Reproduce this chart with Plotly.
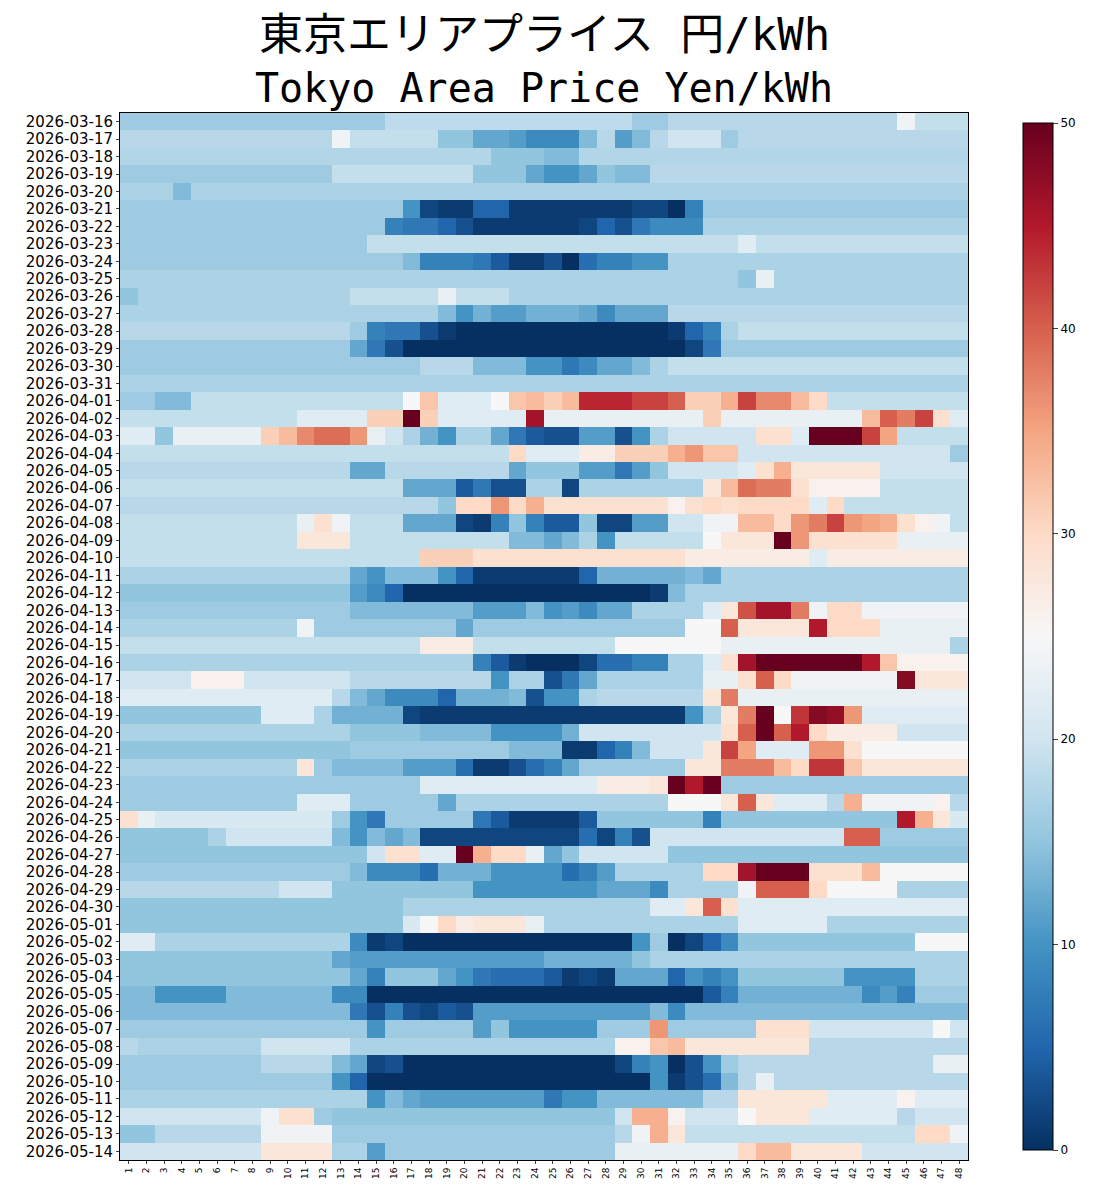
import pandas as pd
import plotly.graph_objects as go

dates = [d.strftime("%Y-%m-%d") for d in pd.date_range("2026-03-16", "2026-05-14")]
slots = [str(i) for i in range(1, 49)]

# each row: base price, then (from_slot, to_slot, price)
rows = [
    (16, [(16, 31, 18.5), (30, 31, 16), (32, 44, 18), (45, 45, 24), (46, 48, 19)]),
    (18, [(13, 13, 24), (14, 18, 19), (19, 20, 15), (21, 22, 12), (23, 23, 11), (24, 26, 9), (27, 27, 14), (29, 29, 11), (30, 30, 14), (32, 34, 20), (35, 35, 16)]),
    (17.5, [(22, 24, 15), (25, 26, 14)]),
    (16, [(13, 20, 19), (21, 23, 15), (24, 24, 12), (25, 26, 10), (27, 27, 12), (28, 28, 15), (29, 30, 14), (31, 48, 18)]),
    (17, [(4, 4, 14)]),
    (16, [(17, 17, 10), (18, 18, 2), (19, 20, 1), (21, 22, 5), (23, 29, 1), (30, 31, 2), (32, 32, 0), (33, 33, 8)]),
    (16, [(16, 16, 8), (17, 18, 7), (19, 19, 5), (20, 20, 3), (21, 26, 1), (27, 27, 2), (28, 28, 5), (29, 29, 3), (30, 30, 7), (31, 33, 9), (34, 48, 17)]),
    (16, [(15, 48, 19), (36, 36, 22)]),
    (16, [(17, 17, 14), (18, 20, 8), (21, 21, 7), (22, 22, 4), (23, 24, 1), (25, 25, 3), (26, 26, 0), (27, 27, 6), (28, 29, 8), (30, 31, 10), (32, 48, 17)]),
    (17, [(36, 36, 15), (37, 37, 23)]),
    (17, [(1, 1, 15), (14, 22, 19), (19, 19, 23)]),
    (17, [(19, 19, 14), (20, 20, 10), (21, 21, 13), (22, 23, 11), (24, 26, 13), (27, 27, 12), (28, 28, 9), (29, 31, 12), (32, 48, 18)]),
    (18, [(14, 14, 16), (15, 15, 8), (16, 17, 7), (18, 18, 3), (19, 19, 1), (20, 31, 0), (32, 32, 1), (33, 33, 5), (34, 34, 8), (35, 35, 17), (36, 48, 19)]),
    (16, [(14, 14, 12), (15, 15, 7), (16, 16, 3), (17, 32, 0), (33, 33, 2), (34, 34, 7)]),
    (16, [(18, 20, 18), (21, 23, 14), (24, 25, 10), (26, 26, 7), (27, 27, 9), (28, 29, 12), (30, 30, 14), (31, 31, 17), (32, 48, 19)]),
    (17, []),
    (19, [(1, 2, 16), (3, 4, 14), (17, 17, 25), (18, 18, 32), (19, 21, 22), (22, 22, 25), (23, 23, 32), (24, 24, 33), (25, 25, 31), (26, 26, 33), (27, 29, 44), (30, 31, 42), (32, 32, 40), (33, 34, 31), (35, 35, 34), (36, 36, 42), (37, 38, 37), (39, 39, 33), (40, 40, 30)]),
    (19, [(11, 14, 22), (15, 16, 31), (17, 17, 50), (18, 18, 31), (19, 23, 22), (24, 24, 46), (25, 33, 23), (34, 34, 31), (35, 42, 23), (43, 43, 33), (44, 44, 40), (45, 45, 38), (46, 46, 42), (47, 47, 29), (48, 48, 22)]),
    (23, [(1, 2, 22), (3, 3, 15), (9, 9, 31), (10, 10, 33), (11, 11, 37), (12, 13, 39), (14, 14, 36), (16, 16, 20), (17, 17, 17), (18, 18, 13), (19, 19, 10), (20, 21, 17), (22, 22, 12), (23, 23, 7), (24, 24, 4), (25, 26, 3), (27, 28, 11), (29, 29, 3), (30, 30, 10), (31, 31, 17), (32, 36, 20), (37, 38, 29), (39, 39, 22), (40, 42, 50), (43, 43, 42), (44, 44, 35), (45, 48, 19)]),
    (19, [(23, 23, 30), (24, 26, 22), (27, 28, 27), (29, 31, 31), (32, 32, 34), (33, 33, 36), (34, 35, 32), (36, 47, 20), (48, 48, 16)]),
    (18, [(14, 15, 12), (23, 23, 12), (24, 26, 15), (27, 28, 11), (29, 29, 7), (30, 30, 11), (31, 31, 15), (32, 35, 20), (36, 36, 22), (37, 37, 29), (38, 38, 34), (39, 43, 28), (44, 48, 20)]),
    (19, [(17, 19, 12), (20, 20, 4), (21, 21, 7), (22, 23, 3), (24, 25, 17), (26, 26, 2), (27, 33, 17), (34, 34, 28), (35, 35, 33), (36, 36, 39), (37, 38, 38), (39, 39, 29), (40, 43, 26)]),
    (18, [(19, 19, 15), (20, 21, 30), (22, 22, 36), (23, 23, 30), (24, 24, 34), (25, 31, 29), (32, 32, 26), (33, 33, 29), (34, 34, 30), (35, 35, 29), (36, 39, 30), (40, 40, 22), (41, 41, 30), (42, 48, 19)]),
    (19, [(11, 11, 23), (12, 12, 29), (13, 13, 24), (17, 19, 12), (20, 20, 2), (21, 21, 1), (22, 22, 8), (23, 23, 15), (24, 24, 8), (25, 26, 4), (27, 27, 15), (28, 29, 2), (30, 31, 11), (32, 33, 20), (34, 35, 24), (36, 37, 33), (38, 38, 30), (39, 39, 36), (40, 40, 38), (41, 41, 42), (42, 42, 36), (43, 43, 35), (44, 44, 34), (45, 45, 29), (46, 46, 26), (47, 47, 24)]),
    (19, [(11, 13, 28), (23, 24, 14), (25, 25, 12), (26, 26, 14), (27, 27, 17), (28, 28, 10), (34, 34, 25), (35, 37, 28), (38, 38, 50), (39, 39, 36), (40, 44, 29), (45, 48, 23)]),
    (19, [(18, 20, 31), (21, 32, 29), (33, 48, 27), (40, 40, 22)]),
    (17, [(14, 14, 12), (15, 15, 10), (16, 18, 14), (19, 19, 10), (20, 20, 5), (21, 26, 1), (27, 27, 5), (28, 32, 13), (33, 33, 14), (34, 34, 12)]),
    (15, [(14, 14, 11), (15, 15, 9), (16, 16, 5), (17, 30, 0), (31, 31, 1), (32, 32, 14), (33, 48, 17)]),
    (16, [(14, 20, 14), (21, 23, 11), (24, 24, 14), (25, 25, 10), (26, 26, 11), (27, 27, 9), (28, 29, 12), (30, 33, 17), (34, 34, 22), (35, 35, 28), (36, 36, 41), (37, 38, 46), (39, 39, 38), (40, 40, 24), (41, 42, 30), (43, 48, 24)]),
    (16, [(1, 10, 17), (11, 11, 24), (20, 20, 12), (33, 34, 25), (35, 35, 40), (36, 39, 28), (40, 40, 45), (41, 43, 30), (44, 48, 23)]),
    (19, [(18, 20, 27), (29, 34, 25), (35, 47, 23), (48, 48, 17)]),
    (17, [(21, 21, 8), (22, 22, 4), (23, 23, 1), (24, 26, 0), (27, 27, 2), (28, 29, 6), (30, 31, 8), (32, 33, 17), (34, 34, 22), (35, 35, 29), (36, 36, 46), (37, 42, 50), (43, 43, 45), (44, 44, 32), (45, 48, 26)]),
    (20, [(5, 7, 26), (14, 21, 18), (22, 22, 10), (23, 24, 17), (25, 25, 3), (26, 26, 7), (27, 27, 12), (28, 33, 17), (34, 35, 23), (36, 36, 29), (37, 37, 40), (38, 38, 30), (39, 44, 24), (45, 45, 48), (46, 48, 28)]),
    (22, [(13, 13, 18), (14, 14, 14), (15, 15, 12), (16, 18, 9), (19, 19, 5), (20, 22, 13), (23, 23, 14), (24, 24, 3), (25, 26, 10), (27, 27, 17), (28, 33, 18), (34, 34, 28), (35, 35, 38), (36, 48, 23)]),
    (15, [(9, 11, 22), (12, 12, 17), (13, 16, 13), (17, 17, 2), (18, 32, 1), (33, 33, 10), (34, 34, 17), (35, 35, 28), (36, 36, 38), (37, 37, 50), (38, 38, 25), (39, 39, 43), (40, 40, 48), (41, 41, 47), (42, 42, 36), (43, 48, 22)]),
    (17, [(14, 17, 15), (18, 21, 14), (22, 25, 10), (26, 26, 13), (27, 34, 20), (35, 35, 29), (36, 36, 40), (37, 37, 50), (38, 38, 40), (39, 39, 45), (40, 40, 30), (41, 44, 27), (45, 48, 20)]),
    (15, [(14, 22, 16), (23, 25, 14), (26, 27, 1), (28, 28, 5), (29, 29, 8), (30, 30, 14), (31, 33, 20), (34, 34, 28), (35, 35, 42), (36, 36, 35), (37, 39, 22), (40, 41, 36), (42, 42, 29), (43, 48, 25)]),
    (17, [(11, 11, 28), (12, 12, 16), (13, 16, 14), (17, 19, 11), (20, 20, 6), (21, 22, 1), (23, 23, 3), (24, 24, 6), (25, 25, 8), (26, 26, 12), (27, 32, 16), (33, 34, 28), (35, 37, 38), (38, 38, 33), (39, 39, 30), (40, 41, 43), (42, 42, 32), (43, 48, 28)]),
    (16, [(18, 27, 22), (28, 30, 27), (31, 31, 28), (32, 32, 50), (33, 33, 45), (34, 34, 50), (35, 48, 16)]),
    (16, [(11, 13, 22), (19, 19, 12), (20, 31, 17), (32, 34, 25), (35, 35, 28), (36, 36, 40), (37, 37, 28), (38, 40, 22), (41, 41, 18), (42, 42, 34), (43, 46, 24), (47, 47, 26), (48, 48, 18)]),
    (21, [(1, 1, 29), (2, 2, 23), (13, 13, 16), (14, 14, 10), (15, 15, 7), (16, 20, 16), (21, 21, 7), (22, 22, 4), (23, 26, 1), (27, 27, 4), (28, 33, 15), (34, 34, 8), (35, 44, 15), (45, 45, 45), (46, 46, 34), (47, 47, 28)]),
    (15, [(6, 6, 17), (7, 12, 20), (13, 13, 14), (14, 14, 10), (15, 15, 14), (16, 16, 12), (17, 17, 14), (18, 26, 2), (27, 27, 6), (28, 28, 2), (29, 29, 8), (30, 30, 3), (31, 41, 20), (42, 43, 40), (44, 48, 16)]),
    (15, [(15, 15, 20), (16, 17, 29), (18, 19, 22), (20, 20, 50), (21, 21, 34), (22, 23, 30), (24, 24, 23), (25, 25, 12), (26, 26, 15), (27, 31, 20)]),
    (16, [(14, 14, 14), (15, 17, 9), (18, 18, 6), (19, 21, 13), (22, 25, 10), (26, 26, 6), (27, 27, 8), (28, 28, 11), (29, 33, 17), (34, 35, 30), (36, 36, 46), (37, 39, 50), (40, 42, 29), (43, 43, 33), (44, 48, 25)]),
    (18, [(10, 12, 20), (13, 20, 15), (21, 27, 10), (28, 30, 12), (31, 31, 9), (32, 35, 17), (36, 36, 24), (37, 39, 40), (40, 40, 30), (41, 44, 25), (45, 48, 17)]),
    (15, [(17, 30, 17), (31, 32, 22), (33, 33, 28), (34, 34, 40), (35, 35, 29), (36, 48, 22)]),
    (15, [(17, 17, 21), (18, 18, 25), (19, 19, 30), (20, 20, 27), (21, 23, 28), (24, 24, 23), (25, 48, 17), (36, 40, 22)]),
    (17, [(1, 2, 22), (14, 14, 9), (15, 15, 1), (16, 16, 2), (17, 29, 0), (30, 30, 10), (31, 31, 16), (32, 32, 0), (33, 33, 2), (34, 34, 5), (35, 35, 9), (36, 45, 15), (46, 48, 25)]),
    (15, [(13, 13, 12), (14, 24, 11), (25, 29, 13), (31, 48, 17)]),
    (15, [(14, 14, 12), (15, 15, 8), (19, 19, 12), (20, 20, 10), (21, 21, 7), (22, 24, 6), (25, 25, 4), (26, 26, 1), (27, 27, 2), (28, 28, 1), (29, 31, 12), (32, 32, 5), (33, 33, 10), (34, 34, 8), (35, 35, 10), (42, 45, 10), (46, 48, 17)]),
    (14, [(3, 6, 10), (13, 14, 9), (15, 33, 0), (34, 34, 4), (35, 35, 8), (36, 42, 13), (43, 43, 9), (44, 44, 11), (45, 45, 8), (46, 48, 16)]),
    (14, [(14, 14, 7), (15, 15, 3), (16, 16, 8), (17, 17, 3), (18, 18, 2), (19, 19, 4), (20, 20, 3), (21, 30, 11), (32, 32, 9)]),
    (16, [(15, 15, 10), (21, 21, 11), (22, 22, 15), (23, 27, 10), (31, 31, 36), (37, 39, 29), (40, 48, 20), (47, 47, 25)]),
    (17, [(1, 1, 18), (9, 13, 20), (29, 30, 26), (31, 31, 32), (32, 32, 33), (33, 39, 28), (40, 48, 18)]),
    (16, [(9, 12, 18), (13, 13, 14), (14, 14, 12), (15, 15, 2), (16, 16, 3), (17, 28, 0), (29, 29, 2), (30, 30, 8), (31, 31, 10), (32, 32, 0), (33, 33, 3), (34, 34, 10), (36, 46, 18), (47, 48, 23)]),
    (16, [(13, 13, 10), (14, 14, 5), (15, 30, 0), (31, 31, 10), (32, 32, 1), (33, 33, 3), (34, 34, 6), (35, 35, 14), (36, 36, 18), (37, 37, 23), (38, 48, 18)]),
    (17, [(15, 15, 10), (16, 16, 14), (17, 17, 12), (18, 24, 11), (25, 25, 7), (26, 27, 10), (28, 33, 14), (34, 35, 18), (36, 40, 28), (41, 44, 22), (45, 45, 26), (46, 48, 22)]),
    (20, [(9, 9, 24), (10, 11, 29), (12, 12, 16), (13, 28, 15), (29, 29, 20), (30, 31, 34), (32, 32, 26), (36, 36, 25), (37, 39, 28), (40, 44, 22), (45, 45, 18)]),
    (18, [(1, 2, 15), (9, 12, 24), (13, 28, 16), (30, 30, 24), (31, 31, 34), (32, 32, 28), (33, 45, 19), (46, 47, 30), (48, 48, 24)]),
    (20, [(9, 12, 28), (13, 14, 17), (15, 15, 11), (16, 28, 16), (29, 35, 23), (36, 36, 30), (37, 38, 33), (39, 42, 28)]),
]

z = []
for base, patches in rows:
    r = [base] * 48
    for a, b, v in patches:
        for k in range(a - 1, b):
            r[k] = v
    z.append(r)

fig = go.Figure(go.Heatmap(
    z=z, x=slots, y=dates, colorscale="RdBu_r", zmin=0, zmax=50,
    colorbar=dict(x=1.053, xanchor="left", y=0, yanchor="bottom", len=1, lenmode="fraction",
                  thickness=30, outlinecolor="black", outlinewidth=1,
                  tickvals=[0, 10, 20, 30, 40, 50], ticks="outside",
                  tickfont=dict(size=12, color="black", family="DejaVu Sans")),
))
ph = 1173 - 105 - 21
fig.update_layout(
    width=1094, height=1173, margin=dict(l=112, r=134, t=105, b=21),
    plot_bgcolor="white", paper_bgcolor="white",
    font=dict(family="Noto Sans CJK JP", color="black"),
    annotations=[
        dict(text="東京エリアプライス 円/kWh", x=0.5, y=1 + 78 / ph, xref="paper", yref="paper",
             yanchor="middle", showarrow=False, font=dict(size=44, family="DejaVu Sans Mono, Noto Sans CJK JP")),
        dict(text="Tokyo Area Price Yen/kWh", x=0.5, y=1 + 25 / ph, xref="paper", yref="paper",
             yanchor="middle", showarrow=False, font=dict(size=40, family="DejaVu Sans Mono")),
    ],
)
fig.update_xaxes(type="category", tickangle=-90, tickfont=dict(size=9, family="DejaVu Sans"), ticks="outside",
                 ticklen=3, showline=True, linecolor="black", mirror=True, automargin=False)
fig.update_yaxes(type="category", autorange="reversed", dtick=1, tickfont=dict(size=15, family="DejaVu Sans"),
                 ticks="outside", ticklen=3, showline=True, linecolor="black", mirror=True, automargin=False)
fig.write_html("out.html")
